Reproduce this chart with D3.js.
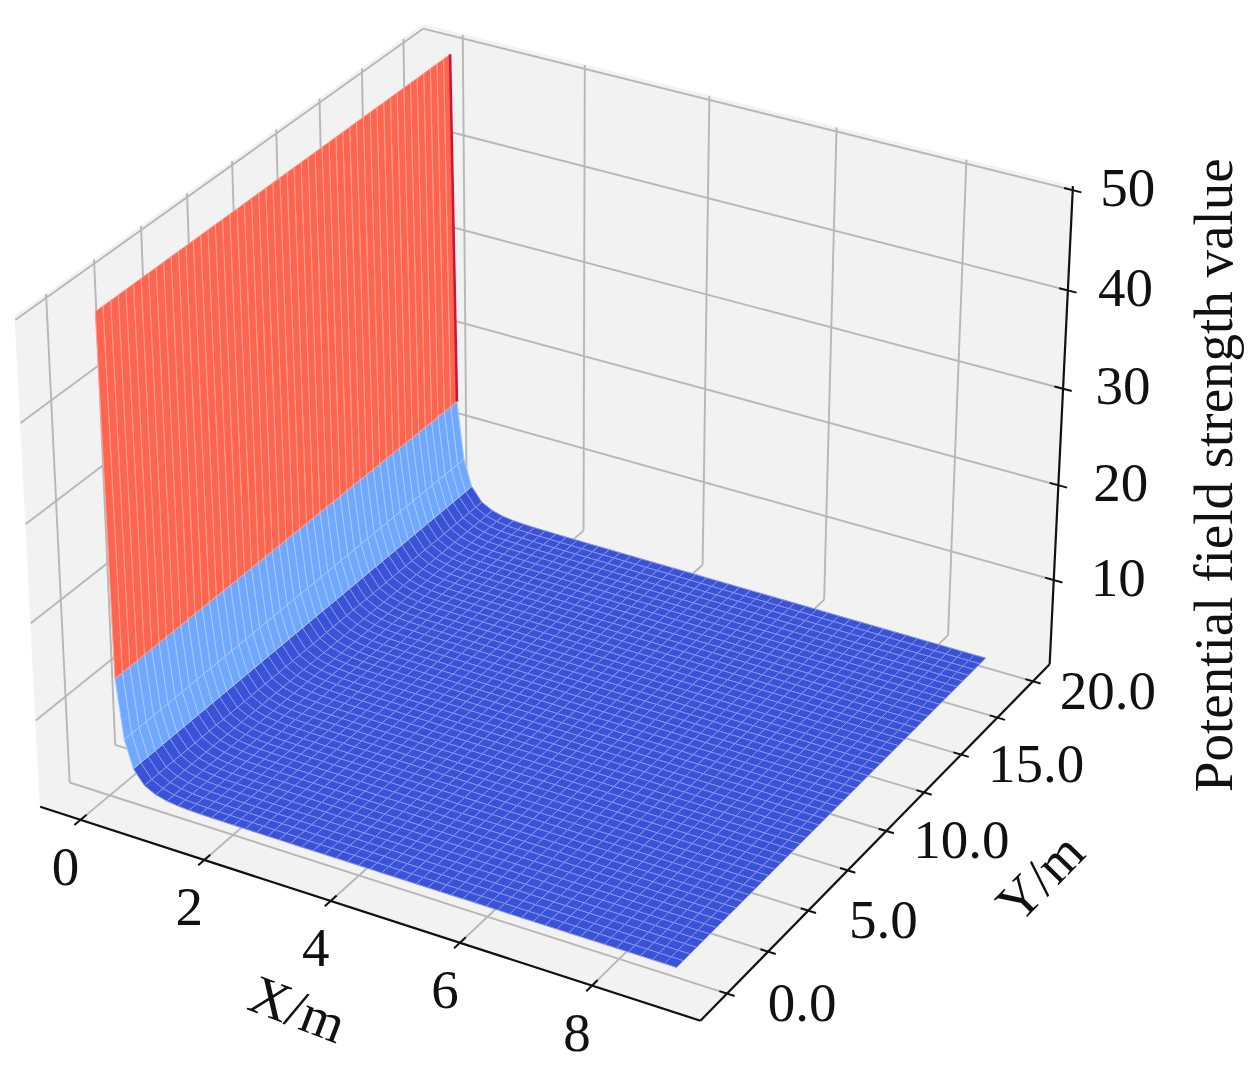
<!DOCTYPE html>
<html><head><meta charset="utf-8">
<script src="https://cdn.jsdelivr.net/npm/d3@7"></script>
<style>body{margin:0;background:#fff} svg{display:block}</style>
</head><body>
<svg id="c" width="1248" height="1071"></svg>
<script>
// ---------------- data ----------------
const xTicks = [0, 2, 4, 6, 8];
const xTickLabels = ["0", "2", "4", "6", "8"];
const yTicks = [0, 2.5, 5, 7.5, 10, 12.5, 15, 17.5, 20];
const yTickLabels = ["0.0", "", "5.0", "", "10.0", "", "15.0", "", "20.0"];
const zTicks = [10, 20, 30, 40, 50];
const zTickLabels = ["10", "20", "30", "40", "50"];
// surface cross-section along X (the value does not vary with Y)
const xGrid = [0.11, 0.17, 0.28, 0.41,
  0.58, 0.76, 0.94, 1.12, 1.30, 1.48, 1.66, 1.84, 2.02, 2.20, 2.38, 2.56, 2.74, 2.92, 3.10, 3.28,
  3.46, 3.64, 3.82, 4.00, 4.18, 4.36, 4.54, 4.72, 4.90, 5.08, 5.26, 5.44, 5.62, 5.80, 5.98, 6.16,
  6.34, 6.52, 6.70, 6.88, 7.06, 7.24, 7.42, 7.60, 7.78, 7.96, 8.14, 8.32, 8.50, 8.68, 8.86];
const zProfile = [50.0, 13.5, 7.4, 4.6,
  3.20, 2.60, 2.30, 2.15, 2.08, 2.05, 2.03, 2.02, 2.01, 2.01, 2.00, 2.00, 2.00, 2.00, 1.99, 1.99,
  1.99, 1.99, 1.99, 1.99, 1.99, 1.98, 1.98, 1.98, 1.98, 1.98, 1.98, 1.98, 1.98, 1.98, 1.98, 1.98,
  1.97, 1.97, 1.97, 1.97, 1.97, 1.97, 1.97, 1.97, 1.97, 1.97, 1.97, 1.97, 1.97, 1.97, 1.97];
const yGrid = d3.range(0, 20.0001, 0.4);
const xTitle = "X/m", yTitle = "Y/m", zTitle = "Potential field strength value";

// ---------------- projection (elev 30°, azim -60°, mild perspective) ----------------
const xBox = [-0.66, 9.61], yBox = [-1.59, 21.19], zBox = [0.95, 50.4];
const elev = 30 * Math.PI / 180, azim = -60 * Math.PI / 180, camD = 8;
const SX = 756, SY = 745.5, cx = 554.7, cy = 497.6;
const nx = d3.scaleLinear().domain(xBox).range([-0.5, 0.5]);
const ny = d3.scaleLinear().domain(yBox).range([-0.5, 0.5]);
const nz = d3.scaleLinear().domain(zBox).range([-0.375, 0.375]);
const dv = [Math.cos(elev) * Math.cos(azim), Math.cos(elev) * Math.sin(azim), Math.sin(elev)];
const rv = [-Math.sin(azim), Math.cos(azim), 0];
const uv = [-Math.sin(elev) * Math.cos(azim), -Math.sin(elev) * Math.sin(azim), Math.cos(elev)];
function proj(x, y, z) {
  const p = [nx(x), ny(y), nz(z)];
  const dot = v => p[0] * v[0] + p[1] * v[1] + p[2] * v[2];
  const d = dot(dv), k = camD / (camD - d);
  return [cx + SX * dot(rv) * k, cy - SY * dot(uv) * k, d];
}
const [xb0, xb1] = xBox, [yb0, yb1] = yBox, [zb0, zb1] = zBox;

const svg = d3.select("#c");
const line = d3.line();
const poly = pts => line(pts.map(p => [p[0], p[1]])) + "Z";
const FONT = "'Liberation Serif','Times New Roman',serif";
const FS = 55;

// ---------------- panes ----------------
const gP = svg.append("g");
const panes = [
  [[xb0, yb0, zb0], [xb1, yb0, zb0], [xb1, yb1, zb0], [xb0, yb1, zb0]],
  [[xb0, yb0, zb0], [xb0, yb1, zb0], [xb0, yb1, zb1], [xb0, yb0, zb1]],
  [[xb0, yb1, zb0], [xb1, yb1, zb0], [xb1, yb1, zb1], [xb0, yb1, zb1]]
];
gP.selectAll("path.pane").data(panes).join("path")
  .attr("d", d => poly(d.map(c => proj(...c))))
  .attr("fill", "#f2f2f2").attr("stroke", "#f4f4f4").attr("stroke-width", 1);

// grid lines
const grid = [];
xTicks.forEach(t => { grid.push([[t, yb0, zb0], [t, yb1, zb0]]); grid.push([[t, yb1, zb0], [t, yb1, zb1]]); });
yTicks.forEach(t => { grid.push([[xb0, t, zb0], [xb1, t, zb0]]); grid.push([[xb0, t, zb0], [xb0, t, zb1]]); });
zTicks.forEach(t => { grid.push([[xb0, yb0, t], [xb0, yb1, t]]); grid.push([[xb0, yb1, t], [xb1, yb1, t]]); });
gP.selectAll("path.grid").data(grid).join("path")
  .attr("d", d => line(d.map(c => proj(...c).slice(0, 2))))
  .attr("fill", "none").attr("stroke", "#b7b7b7").attr("stroke-width", 1.9);

// ---------------- axes ----------------
const gA = svg.append("g");
const axesLines = [
  [[xb0, yb0, zb0], [xb1, yb0, zb0]],
  [[xb1, yb0, zb0], [xb1, yb1, zb0]],
  [[xb1, yb1, zb0], [xb1, yb1, zb1]]
];
gA.selectAll("path.ax").data(axesLines).join("path")
  .attr("d", d => line(d.map(c => proj(...c).slice(0, 2))))
  .attr("fill", "none").attr("stroke", "#111").attr("stroke-width", 2.2);

function dirOf(a, b) { const dx = b[0] - a[0], dy = b[1] - a[1], L = Math.hypot(dx, dy); return [dx / L, dy / L]; }
function tickSeg(p, dir, lin, lout) { return [[p[0] - dir[0] * lin, p[1] - dir[1] * lin], [p[0] + dir[0] * lout, p[1] + dir[1] * lout]]; }

const ticks = [];
const labels = [];
xTicks.forEach((t, i) => {
  const p = proj(t, yb0, zb0), dir = dirOf(proj(t, yb0 + 1, zb0), p);
  ticks.push(tickSeg(p, dir, 8, 8));
  labels.push({ x: p[0] - 15, y: p[1] + 47, text: xTickLabels[i] });
});
yTicks.forEach((t, i) => {
  const p = proj(xb1, t, zb0), dir = dirOf(proj(xb1 - 1, t, zb0), p);
  ticks.push(tickSeg(p, dir, 8, 8));
  if (yTickLabels[i]) labels.push({ x: p[0] + 75, y: p[1] + 9, text: yTickLabels[i] });
});
const zTop = proj(xb1, yb1, zb1);
zTicks.forEach((t, i) => {
  const p = proj(xb1, yb1, t), dir = dirOf(proj(xb1 - 1, yb1, t), p);
  ticks.push(tickSeg(p, dir, 9, 9));
  labels.push({ x: (p[0] + zTop[0]) / 2 + 55, y: p[1] - 3, text: zTickLabels[i] });
});
gA.selectAll("path.tick").data(ticks).join("path")
  .attr("d", d => line(d)).attr("stroke", "#111").attr("stroke-width", 2);

// ---------------- surface ----------------
const color = d3.scaleThreshold().domain([5, 20]).range(["#3a52d8", "#70a8ff", "#ff654e"]);
const faces = [];
for (let i = 0; i < xGrid.length - 1; i++) {
  for (let j = 0; j < yGrid.length - 1; j++) {
    const c = [[xGrid[i], yGrid[j], zProfile[i]], [xGrid[i + 1], yGrid[j], zProfile[i + 1]],
               [xGrid[i + 1], yGrid[j + 1], zProfile[i + 1]], [xGrid[i], yGrid[j + 1], zProfile[i]]];
    const pts = c.map(q => proj(...q));
    const zm = (zProfile[i] + zProfile[i + 1]) / 2;
    faces.push({ pts, depth: d3.mean(pts, p => p[2]), fill: color(zm) });
  }
}
faces.sort((a, b) => a.depth - b.depth);
const gS = svg.append("g");
gS.selectAll("path.face").data(faces).join("path")
  .attr("d", d => poly(d.pts))
  .attr("fill", d => d.fill)
  .attr("stroke", d => d3.interpolateRgb(d.fill, "#ffffff")(0.38))
  .attr("stroke-width", 1).attr("stroke-linejoin", "round");
// dark back edge of the steep wall
const yEnd = yGrid[yGrid.length - 1];
gS.append("path")
  .attr("d", line([proj(xGrid[0], yEnd, zProfile[0]), proj(xGrid[1], yEnd, zProfile[1])].map(p => p.slice(0, 2))))
  .attr("stroke", "#d21038").attr("stroke-width", 2.5).attr("fill", "none");

// ---------------- labels ----------------
const gL = svg.append("g").attr("font-family", FONT).attr("fill", "#111");
gL.selectAll("text.tl").data(labels).join("text")
  .attr("x", d => d.x).attr("y", d => d.y)
  .attr("text-anchor", "middle").attr("dominant-baseline", "central")
  .attr("font-size", FS).text(d => d.text);

const xa = proj(xb0, yb0, zb0), xbp = proj(xb1, yb0, zb0);
const xAng = Math.atan2(xbp[1] - xa[1], xbp[0] - xa[0]) * 180 / Math.PI;
const xm = proj(4, yb0, zb0);
gL.append("text").attr("transform", `translate(${xm[0] - 33},${xm[1] + 108}) rotate(${xAng + 3})`)
  .attr("text-anchor", "middle").attr("dominant-baseline", "central").attr("font-size", FS).text(xTitle);
const ya = proj(xb1, yb0, zb0), ybp = proj(xb1, yb1, zb0);
const yAng = Math.atan2(ybp[1] - ya[1], ybp[0] - ya[0]) * 180 / Math.PI;
const ym = proj(xb1, 12.5, zb0);
gL.append("text").attr("transform", `translate(${ym[0] + 116},${ym[1] + 85}) rotate(${yAng})`)
  .attr("text-anchor", "middle").attr("dominant-baseline", "central").attr("font-size", FS).text(yTitle);
const zm0 = proj(xb1, yb1, zb0);
gL.append("text").attr("transform", `translate(${(zm0[0] + zTop[0]) / 2 + 152},${(zm0[1] + zTop[1]) / 2 + 50}) rotate(-90)`)
  .attr("text-anchor", "middle").attr("dominant-baseline", "central").attr("font-size", FS).text(zTitle);
</script>
</body></html>
